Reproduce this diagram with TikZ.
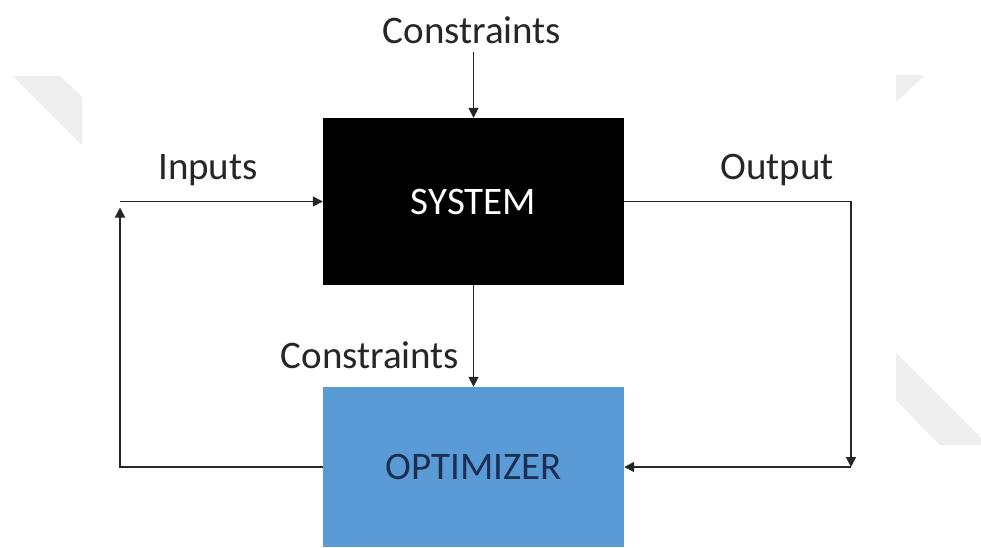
\documentclass[tikz,border=0pt]{standalone}
\usepackage{fontspec}
\setmainfont{Carlito}
\usetikzlibrary{arrows.meta}
\definecolor{optfill}{HTML}{5B9BD5}
\definecolor{opttext}{HTML}{1B2F55}
\definecolor{deco}{HTML}{EEEEEE}
\begin{document}
\begin{tikzpicture}[x=1pt,y=-1pt,
  lbl/.style={font=\fontsize{39}{45}\selectfont, text=black!85, inner sep=0pt},
  box/.style={draw=none, minimum width=301pt, inner sep=0pt, font=\fontsize{39}{45}\selectfont},
  arr/.style={draw=black!85, line width=1.6pt, -{Triangle[length=10pt,width=10pt]}},
  ln/.style={draw=black!85, line width=1.6pt}]
\useasboundingbox (0,0) rectangle (981,547);
\fill[white] (0,0) rectangle (981,547);
% decorative light-gray shapes
\fill[deco] (13,76) -- (60,76) -- (82,97) -- (82,145) -- cycle;
\fill[deco] (896,75) -- (925,75) -- (896,102) -- cycle;
\fill[deco] (896,353) -- (981,438) -- (981,445) -- (940,445) -- (896,400) -- cycle;
% boxes
\node[box, fill=black, text=white, minimum height=167pt] (sys) at (473.5,201.5) {SYSTEM};
\node[box, fill=optfill, text=opttext, minimum height=160pt] (opt) at (473.5,467) {OPTIMIZER};
% labels
\node[lbl] (ctop) at (472,30) {Constraints};
\node[lbl] (inp) at (208,170) {Inputs};
\node[lbl] (outp) at (777,170) {Output};
\node[lbl] (cmid) at (370,355) {Constraints};
% coordinates
\coordinate (t0) at (473.5,52);
\coordinate (lt) at (120,201.5);
\coordinate (rb) at (851,467);
% connectors
\draw[arr] (t0) -- (sys.north);
\draw[arr] (sys.south) -- (opt.north);
\draw[arr, shorten >=6pt] (opt.west) -| (lt);
\draw[arr] (lt) -- (sys.west);
\draw[arr] (sys.east) -| (rb);
\draw[arr] (rb) -- (opt.east);
\end{tikzpicture}
\end{document}
